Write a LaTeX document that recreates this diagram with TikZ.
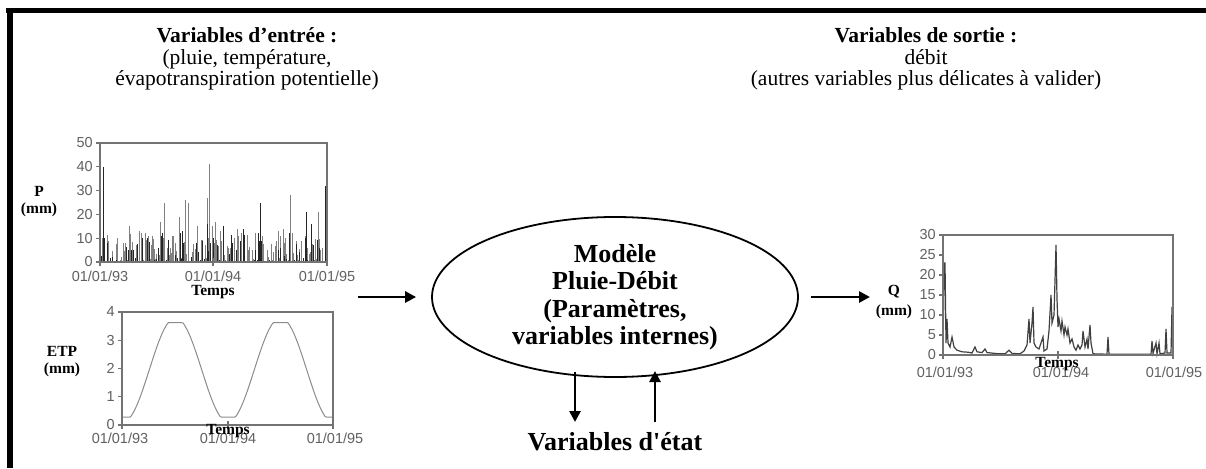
\documentclass[tikz,border=0pt]{standalone}
\usepackage{fontspec}
\setmainfont{Liberation Serif}
\newfontfamily\arialf{Liberation Sans}
\usetikzlibrary{arrows.meta,shapes.geometric}
\begin{document}
\begin{tikzpicture}[x=1pt,y=-1pt,
  ttl/.style={font=\fontsize{21.5}{21.5}\selectfont, align=center, inner sep=0},
  lbl/.style={font=\bfseries\fontsize{15.5}{17}\selectfont, align=center, inner sep=0},
  tk/.style={font=\arialf\fontsize{14.5}{14.5}\selectfont, text=black!62, inner sep=0},
  ax/.style={draw=black!55, line width=1.1pt},
  dbar/.style={draw=black!85, line width=1pt},
  gbar/.style={draw=black!50, line width=1pt},
  arr/.style={line width=2.6pt, -{Triangle[length=11pt,width=11pt]}},
  mtxt/.style={font=\bfseries\fontsize{26}{27.5}\selectfont, align=center, inner sep=0}]
\fill[white] (0,0) rectangle (1206,468);
\useasboundingbox (0,0) rectangle (1206,468);
% frame
\draw[line width=5pt] (6,10.5) -- (1206,10.5);
\draw[line width=6pt] (9.5,8) -- (9.5,468);

% titles
\node[ttl] (tin) at (247,59) {\textbf{Variables d’entrée :}\\(pluie, température,\\évapotranspiration potentielle)};
\node[ttl] (tout) at (926,59) {\textbf{Variables de sortie :}\\débit\\(autres variables plus délicates à valider)};

% ---------- P chart ----------
\pgfmathsetseed{12}
\foreach \i in {0,...,174}{
  \pgfmathsetmacro\xx{101+\i*1.3}
  \pgfmathsetmacro\hh{(rnd^2.5)*12*2.38}
  \draw[gbar] (\xx,262) -- (\xx,262-\hh);
}
\pgfmathsetseed{31}
\foreach \i in {0,...,107}{
  \pgfmathsetmacro\xx{101.6+\i*2.1}
  \pgfmathsetmacro\hh{(rnd^3)*12*2.38}
  \draw[dbar] (\xx,262) -- (\xx,262-\hh);
}
\foreach \x/\h in {102/10,117/7,125/3,129/15,139/13,141/12,145/12,148/11,152/11,160/17,164/25,167/6,170/6,173/11,179/19,185/26,188/25,192/4,197/15,207/27,209/41,212/15,215/17,220/13,230/6,237/14,241/12,248/5,252/5,255/12,267/5,278/13,283/14,285/10,290/28,292/12,297/3,315/7,318/21,322/6}
  \draw[gbar] (\x,262) -- (\x,{262-2.38*\h});
\foreach \x/\h in {103/40,104/10,107/8,131/5,142/10,147/10,161/11,162/12,180/12,182/13,207/16,210/8,213/10,217/7,223/15,232/8,240/9,243/14,255/5,258/12,260/25,278/5,289/12,305/10,306/21,311/16,313/7,325/32,326/22,319/6}
  \draw[dbar] (\x,262) -- (\x,{262-2.38*\h});
\draw[ax] (100,143) rectangle (327,262);
\foreach \v in {0,10,...,50}{
  \draw[ax] (96,{262-2.38*\v}) -- (100,{262-2.38*\v});
  \node[tk,anchor=east] (py\v) at (93,{262-2.38*\v}) {\v};
}
\foreach \x in {100,213,327} \draw[ax] (\x,258) -- (\x,266);
\node[tk] (px1) at (100,276) {01/01/93};
\node[tk] (px2) at (213,276) {01/01/94};
\node[tk] (px3) at (327,276) {01/01/95};
\node[lbl] (pt) at (213,292) {Temps};
\node[lbl] (pl) at (39,202) {P\\(mm)};

% ---------- ETP chart ----------
\draw[draw=black!45, line width=1pt] plot[domain=122:333, samples=160]
  (\x, {425-28.25*min(3.62,max(0.28,1.95-1.85*cos(3.4286*(\x-123))))});
\draw[ax] (122,312) rectangle (333,425);
\foreach \v in {0,...,4}{
  \draw[ax] (118,{425-28.25*\v}) -- (122,{425-28.25*\v});
  \node[tk,anchor=east] (ey\v) at (115,{425-28.25*\v}) {\v};
}
\foreach \x in {122,228,333} \draw[ax] (\x,421) -- (\x,429);
\node[tk] (ex1) at (120,438) {01/01/93};
\node[tk] (ex2) at (228,438) {01/01/94};
\node[tk] (ex3) at (335,438) {01/01/95};
\node[lbl] (et) at (228,431) {Temps};
\node[lbl] (el) at (62,362) {ETP\\(mm)};

% ---------- Q chart ----------
\draw[draw=black!75, line width=1.2pt] plot coordinates {
(943,353) (944,263) (945,263) (946,343) (947,319) (948,343) (950,347) (952,337) (954,347)
(957,350.2) (962,351.8) (968,352.2) (972,353) (975,347) (977,351.8) (982,352.6) (985,349)
(987,352.6) (995,353.4) (1000,353.8) (1005,353.8) (1009,350.2) (1012,353.4) (1020,353.8)
(1024,351) (1027,345) (1029,319) (1030,343) (1032,323) (1033,307) (1034,343) (1036,347)
(1039,349) (1043,337) (1044,351) (1047,349) (1049,331) (1051,295) (1052,323) (1054,315)
(1056,245) (1057,299) (1058,327) (1059,319) (1061,331) (1062,321) (1064,335) (1065,327)
(1067,335) (1068,329) (1070,343) (1072,339) (1074,347) (1076,350.2) (1078,345) (1080,349)
(1082,345) (1083,331) (1085,347) (1087,339) (1088,349) (1090,325) (1091,343) (1093,353.8)
(1107,354.2) (1108,337) (1109,354.2) (1151,354.2) (1152,341) (1153,353.4) (1156,343)
(1157,353.8) (1159,343) (1160,353.8) (1165,353) (1166,329) (1167,353) (1171,353)
(1172,307) (1173,353)};
\draw[ax] (943,235) rectangle (1173,355);
\foreach \v in {0,5,...,30}{
  \draw[ax] (939,{355-4*\v}) -- (943,{355-4*\v});
  \node[tk,anchor=east] (qy\v) at (936,{355-4*\v}) {\v};
}
\foreach \x in {943,1058,1173} \draw[ax] (\x,351) -- (\x,359);
\node[tk] (qx1) at (945,372) {01/01/93};
\node[tk] (qx2) at (1061,372) {01/01/94};
\node[tk] (qx3) at (1174,372) {01/01/95};
\node[lbl] (qt) at (1057,364) {Temps};
\node[lbl,font=\bfseries\fontsize{15.5}{20}\selectfont] (ql) at (894,302) {Q\\(mm)};

% ---------- model ----------
\node[draw, ellipse, line width=1.8pt, minimum width=366pt, minimum height=160pt, inner sep=0] (model) at (615,297) {};
\node[mtxt] (mt) at (615,297) {Modèle\\Pluie-Débit\\(Paramètres,\\variables internes)};
\node[mtxt] (etat) at (615,442) {Variables d\textquotesingle état};

\coordinate (inS) at (358,297);
\coordinate (outE) at (870,297);
\coordinate (dA) at (575,372);
\coordinate (dB) at (575,422);
\coordinate (uA) at (655,422);
\coordinate (uB) at (655,371);
\draw[arr, shorten >=15pt] (inS) -- (model.west);
\draw[arr, shorten <=12pt] (model.east) -- (outE);
\draw[arr] (dA) -- (dB);
\draw[arr] (uA) -- (uB);
\end{tikzpicture}
\end{document}
